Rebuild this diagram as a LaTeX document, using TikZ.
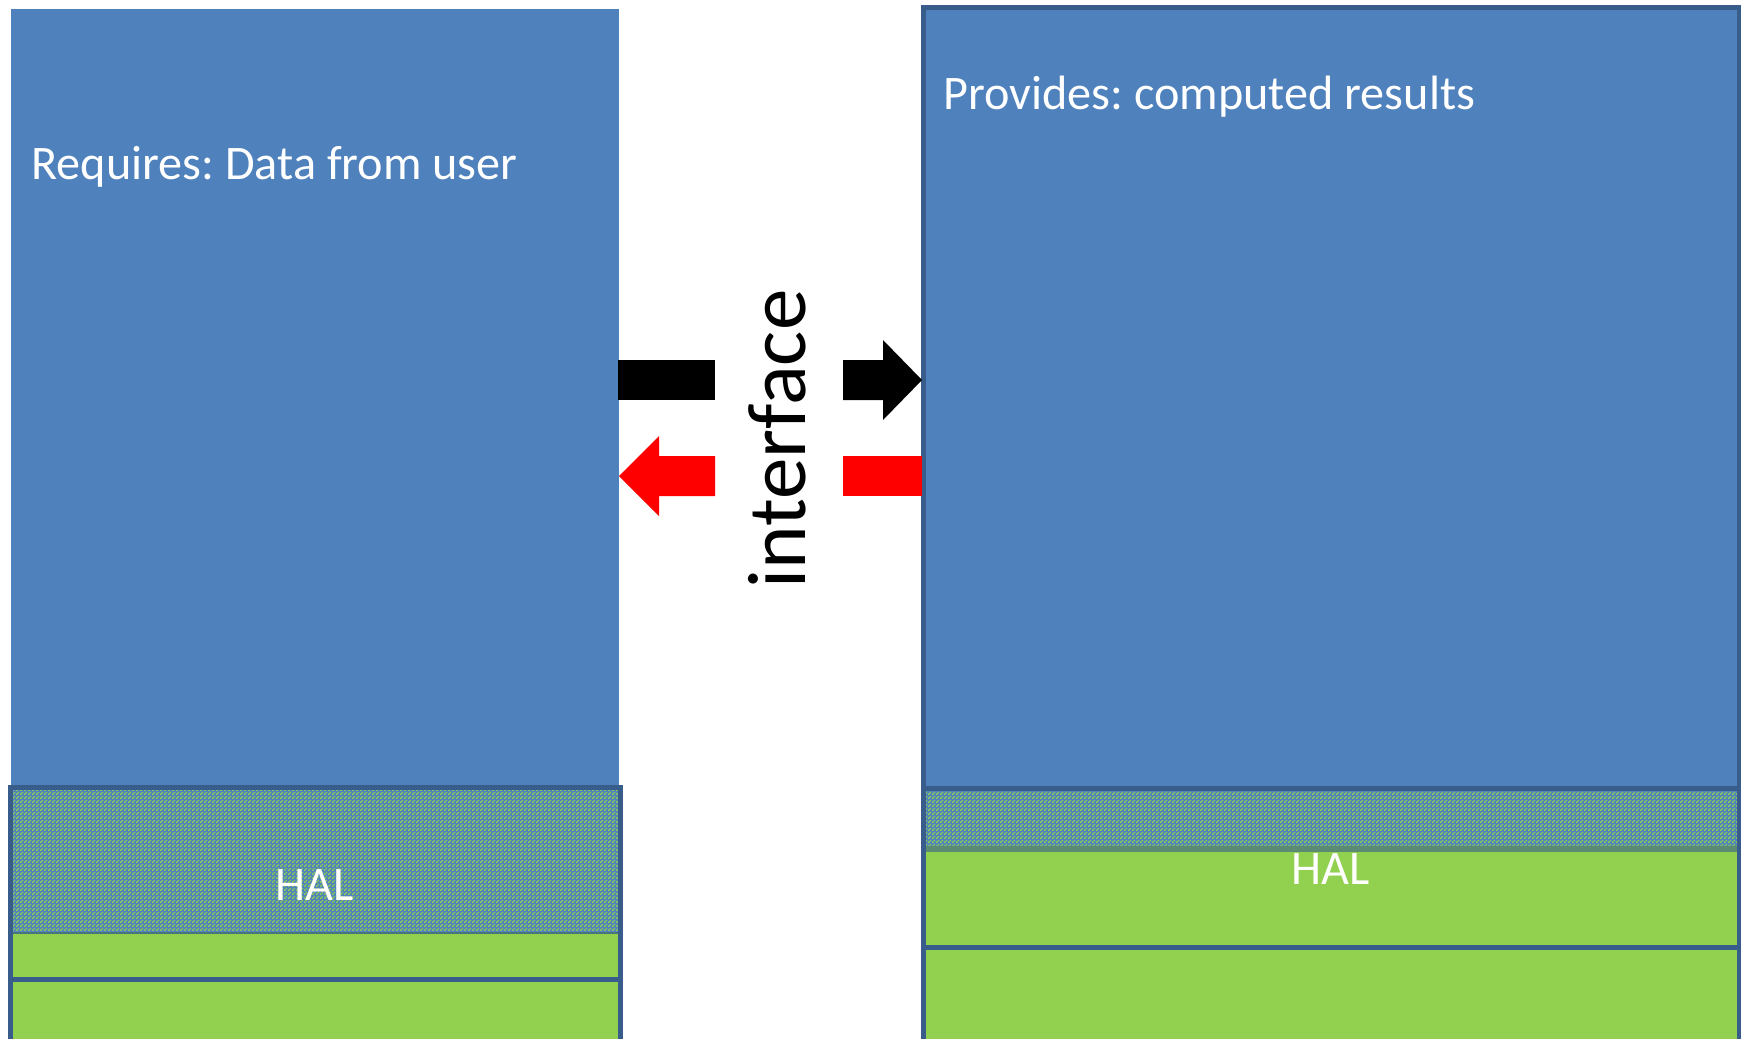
\documentclass[tikz,border=0pt]{standalone}
\usepackage{fontspec}
\setmainfont{Carlito}
\usetikzlibrary{patterns}
\frenchspacing

\definecolor{blockblue}{HTML}{4F81BD}
\definecolor{edgeblue}{HTML}{385D8A}
\definecolor{halgreen}{HTML}{92D050}
\definecolor{arrowred}{HTML}{FF0000}

% fine two-tone checker used for the HAL layer
\pgfdeclarepatternformonly{finecheck}{\pgfpointorigin}{\pgfpoint{2pt}{2pt}}{\pgfpoint{2pt}{2pt}}{%
  \pgfpathrectangle{\pgfpointorigin}{\pgfpoint{1pt}{1pt}}%
  \pgfpathrectangle{\pgfpoint{1pt}{1pt}}{\pgfpoint{1pt}{1pt}}%
  \pgfusepath{fill}}

\tikzset{
  layer/.style={draw=edgeblue, line width=2.5pt},
  hatched/.style={fill=blockblue!70!halgreen, pattern=finecheck, pattern color=halgreen},
  label/.style={text=white, font=\fontsize{24.1pt}{26pt}\selectfont, inner sep=0pt},
}

\begin{document}
\begin{tikzpicture}[x=0.5pt, y=-0.5pt]
  \useasboundingbox (0,0) rectangle (1741,1039);
  \clip (0,0) rectangle (1741,1039);

  % ---- left component ----
  \fill[blockblue] (11,9) rectangle (619,788);
  \fill[blockblue] (10.5,787.5) rectangle (620,933);
  \fill[hatched] (10.5,787.5) rectangle (620,933);
  \fill[halgreen] (10.5,933) rectangle (620,979);
  \draw[edgeblue!80!halgreen, line width=0.8pt] (10.5,933) -- (620,933);
  \draw[layer] (10.5,787.5) rectangle (620,979);
  \fill[halgreen] (10.5,979) rectangle (620,1060);
  \draw[layer] (10.5,979) rectangle (620,1060);

  \node[label, anchor=base west] (req) at (31,179) {Requires: Data from user};
  \node[label, anchor=base] (halL) at (315,900) {HAL};

  % ---- right component ----
  \fill[blockblue] (923,7) rectangle (1739,788);
  \fill[blockblue] (923,788) rectangle (1739,852);
  \fill[hatched] (923,788) rectangle (1739,852);
  \fill[edgeblue!60!halgreen] (923,846) rectangle (1739,852);
  \fill[halgreen] (923,852) rectangle (1739,947);
  \fill[halgreen] (923,947) rectangle (1739,1060);
  \draw[layer] (923,7) rectangle (1739,1060);
  \draw[layer] (923,788) -- (1739,788);
  \draw[layer] (923,947) -- (1739,947);

  \node[label, anchor=base west] (prov) at (943,109) {Provides: computed results};
  \node[label, anchor=base] (halR) at (1331,884) {HAL};

  % ---- interface arrows ----
  \node[rotate=90, anchor=base west, inner sep=0pt,
        font=\fontsize{41.5pt}{44pt}\selectfont] (iface) at (805,589) {interface};

  % request: left to right
  \fill[black] (618,360) rectangle (715,400);
  \fill[black] (843,360) -- (883,360) -- (883,340) -- (922,380)
               -- (883,420) -- (883,400) -- (843,400) -- cycle;

  % reply: right to left
  \fill[arrowred] (843,456) rectangle (922,496);
  \fill[arrowred] (619,476) -- (659,436) -- (659,456) -- (715,456)
                  -- (715,496) -- (659,496) -- (659,516) -- cycle;
\end{tikzpicture}
\end{document}
